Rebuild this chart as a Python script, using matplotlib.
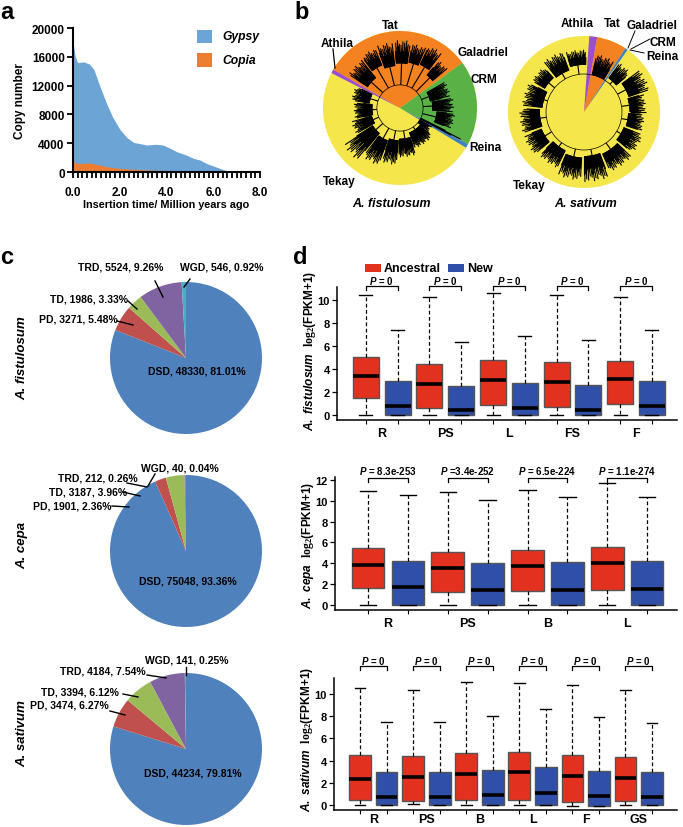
import numpy as np
import matplotlib
matplotlib.use("Agg")
import matplotlib.pyplot as plt
from matplotlib.patches import Wedge, Rectangle, Arc, Polygon
from matplotlib.collections import LineCollection

plt.rcParams['font.family'] = ['Liberation Sans', 'DejaVu Sans']
plt.rcParams['font.weight'] = 'bold'
plt.rcParams['mathtext.fontset'] = 'custom'
plt.rcParams['mathtext.it'] = 'Liberation Sans:italic:bold'
plt.rcParams['mathtext.rm'] = 'Liberation Serif'
plt.rcParams['mathtext.bf'] = 'Liberation Sans:bold'

W, H = 683, 828

# ---- panel a: insertion time ----
ins_time = [0.0, 0.1, 0.2, 0.45, 0.7, 0.9, 1.15, 1.45, 1.7, 2.0, 2.3, 2.6, 2.85, 3.15,
            3.55, 3.85, 4.15, 4.45, 4.85, 5.15, 5.45, 5.7, 6.0, 6.3, 6.55, 6.85, 8.0]
gypsy = [18000, 16000, 15200, 15300, 15000, 14200, 11900, 9400, 7600, 5950, 4800, 4100, 3950, 3750,
         3850, 3750, 3300, 2800, 2350, 1900, 1650, 1200, 850, 480, 200, 0, 0]
copia = [1500, 1350, 1200, 1200, 1250, 1150, 950, 750, 600, 500, 430, 380, 340, 300,
         250, 220, 180, 140, 100, 70, 50, 30, 15, 0, 0, 0, 0]

# ---- panel b: LTR trees (sector angles in degrees) ----
fis_sectors = [('Tat', 36, 150, '#f58220'), ('Athila', 150, 153, '#9b4fd0'),
               ('CRM', -28, 36, '#5ab246'), ('Reina', -31, -28, '#3f7fc5')]
sat_sectors = [('Tat', 57, 80, '#f58220'), ('Athila', 80, 86, '#9b4fd0'),
               ('Reina', 55, 57, '#3f7fc5')]
# clades: (theta1, theta2, r_in, r_out)
fis_clades = [(40, 51, 0.55, 0.80), (53, 65, 0.62, 0.90), (67, 79, 0.60, 0.85), (81, 95, 0.58, 0.88),
              (97, 111, 0.55, 0.86), (113, 127, 0.60, 0.84), (129, 147, 0.50, 0.80),
              (-22, -6, 0.48, 0.72), (-4, 11, 0.42, 0.70), (13, 30, 0.40, 0.68),
              (154, 171, 0.40, 0.64), (173, 194, 0.36, 0.60), (196, 211, 0.38, 0.66),
              (213, 231, 0.42, 0.88), (233, 249, 0.45, 0.80), (251, 267, 0.42, 0.74),
              (269, 289, 0.40, 0.64), (291, 319, 0.34, 0.56), (321, 329, 0.30, 0.48),
              (-28, -26, 0.30, 0.95)]
sat_clades = [(0, 17, 0.60, 0.82), (19, 37, 0.62, 0.92), (40, 54, 0.55, 0.80), (59, 78, 0.50, 0.78),
              (88, 107, 0.62, 0.82), (110, 129, 0.58, 0.85), (132, 149, 0.60, 0.80),
              (152, 174, 0.55, 0.82), (177, 199, 0.58, 0.85), (202, 221, 0.60, 0.86),
              (224, 244, 0.56, 0.82), (247, 267, 0.60, 0.90), (270, 291, 0.58, 0.92),
              (294, 317, 0.60, 0.86), (320, 339, 0.56, 0.84), (342, 358, 0.58, 0.80)]
spike_profile = [1.0, 0.7, 0.9, 0.55, 0.95, 0.65, 0.8, 0.5, 0.85, 0.75]

# ---- panel c: duplication types ----
dup_types = ['DSD', 'PD', 'TD', 'TRD', 'WGD']
dup_colors = ['#4f81bd', '#c0504d', '#9bbb59', '#8064a2', '#4bacc6']
fis_counts = [48330, 3271, 1986, 5524, 546]
fis_pct = ['81.01%', '5.48%', '3.33%', '9.26%', '0.92%']
cep_counts = [75048, 1901, 3187, 212, 40]
cep_pct = ['93.36%', '2.36%', '3.96%', '0.26%', '0.04%']
sat_counts = [44234, 3474, 3394, 4184, 141]
sat_pct = ['79.81%', '6.27%', '6.12%', '7.54%', '0.25%']

# ---- panel d: expression boxes ----
tissues1 = ['R', 'PS', 'L', 'FS', 'F']
anc1_lo = [0, 0, 0, 0, 0]
anc1_q1 = [1.45, 0.58, 0.87, 0.70, 0.93]
anc1_med = [3.42, 2.70, 3.07, 2.90, 3.10]
anc1_q3 = [5.07, 4.47, 4.75, 4.61, 4.72]
anc1_hi = [10.46, 10.23, 10.64, 10.46, 10.29]
new1_lo = [0, 0, 0, 0, 0]
new1_q1 = [0, 0, 0, 0, 0]
new1_med = [0.75, 0.43, 0.58, 0.46, 0.75]
new1_q3 = [2.96, 2.49, 2.75, 2.64, 2.96]
new1_hi = [7.42, 6.32, 6.84, 6.55, 7.42]
pval1 = ['= 0', '= 0', '= 0', '= 0', '= 0']

tissues2 = ['R', 'PS', 'B', 'L']
anc2_lo = [0, 0, 0, 0]
anc2_q1 = [1.58, 1.19, 1.32, 1.39]
anc2_med = [3.84, 3.51, 3.77, 4.00]
anc2_q3 = [5.48, 5.12, 5.25, 5.54]
anc2_hi = [10.95, 10.86, 11.08, 11.76]
new2_lo = [0, 0, 0, 0]
new2_q1 = [0, 0, 0, 0]
new2_med = [1.71, 1.39, 1.45, 1.52]
new2_q3 = [4.22, 4.03, 4.16, 4.22]
new2_hi = [10.60, 10.08, 10.34, 10.41]
pval2 = ['= 8.3e-253', '=3.4e-252', '= 6.5e-224', '= 1.1e-274']

tissues3 = ['R', 'PS', 'B', 'L', 'F', 'GS']
anc3_lo = [0.03, 0.05, 0, 0, -0.12, 0]
anc3_q1 = [0.42, 0.39, 0.42, 0.48, 0.24, 0.33]
anc3_med = [2.34, 2.49, 2.79, 2.94, 2.64, 2.40]
anc3_q3 = [4.53, 4.41, 4.65, 4.77, 4.53, 4.35]
anc3_hi = [10.54, 10.36, 11.05, 10.96, 10.78, 10.33]
new3_lo = [0, 0, 0, 0, -0.12, 0]
new3_q1 = [0, 0, 0, 0, -0.12, 0]
new3_med = [0.75, 0.75, 0.93, 1.05, 0.78, 0.69]
new3_q3 = [3.00, 3.00, 3.18, 3.45, 3.09, 2.94]
new3_hi = [7.48, 7.48, 8.05, 8.62, 7.95, 7.41]
pval3 = ['= 0'] * 6

RED = '#e2321f'
BLUE = '#2f4fa8'

fig = plt.figure(figsize=(W / 100, H / 100), dpi=100)


def px_axes(x0, y0, x1, y1):
    return fig.add_axes([x0 / W, 1 - y1 / H, (x1 - x0) / W, (y1 - y0) / H])


def Y(y):
    return H - y


# overlay in pixel coordinates (y measured from top)
ov = fig.add_axes([0, 0, 1, 1])
ov.patch.set_alpha(0)


def ptext(x, y, s, **kw):
    kw.setdefault('ha', 'center')
    kw.setdefault('va', 'center')
    ov.text(x, Y(y), s, **kw)


def pline(x0, y0, x1, y1, lw=0.9):
    ov.plot([x0, x1], [Y(y0), Y(y1)], color='black', lw=lw)


# panel letters
for letter, x, y in [('a', 0, 19), ('b', 294, 19), ('c', 0, 264), ('d', 293, 264)]:
    ptext(x, y, letter, ha='left', va='baseline', fontsize=17, fontweight='bold')

# ---- a ----
axa = px_axes(73, 29, 260, 173)
axa.fill_between(ins_time, gypsy, color='#6ca4d6', lw=0)
axa.fill_between(ins_time, copia, color='#ed7d31', lw=0)
axa.set_xlim(0, 8)
axa.set_ylim(0, 20000)
axa.set_xticks([0, 2, 4, 6, 8], ['0.0', '2.0', '4.0', '6.0', '8.0'])
axa.set_xticks(np.arange(0, 8.01, 0.2), minor=True)
axa.set_yticks(range(0, 20001, 4000))
for s in ['top', 'right']:
    axa.spines[s].set_visible(False)
for s in ['left', 'bottom']:
    axa.spines[s].set_linewidth(1.5)
axa.tick_params(axis='both', which='both', direction='out', width=1.3, length=4, labelsize=8.5, pad=2)
axa.tick_params(axis='x', which='major', pad=6)
axa.set_ylabel('Copy number', fontsize=8.5, fontweight='bold', labelpad=4)
axa.patch.set_alpha(0)
ptext(166, 205, 'Insertion time/ Million years ago', fontsize=7.8, fontweight='bold')
ov.add_patch(Rectangle((197, Y(44)), 15, 13, color='#6ca4d6', lw=0))
ov.add_patch(Rectangle((197, Y(68)), 15, 14, color='#ed7d31', lw=0))
ptext(222, 37, 'Gypsy', ha='left', fontsize=8.7, fontweight='bold', fontstyle='italic')
ptext(222, 61, 'Copia', ha='left', fontsize=8.7, fontweight='bold', fontstyle='italic')


# ---- b ----
def polar(c, r, t):
    a = np.deg2rad(t)
    return c[0] + r * np.cos(a), c[1] + r * np.sin(a)


def draw_tree(cx, cy, R, sectors, clades, arc_r):
    c = (cx, Y(cy))
    ov.add_patch(Wedge(c, R, 0, 360, color='#f5e64b', lw=0))
    for _, t1, t2, col in sectors:
        ov.add_patch(Wedge(c, R, t1, t2, color=col, lw=0))
    for r in arc_r:
        ov.add_patch(Arc(c, 2 * r * R, 2 * r * R, color='black', lw=0.5))
    segs = []
    k = 0
    for t1, t2, r1, r2 in clades:
        # dense core of the clade
        core = r1 + (r2 - r1) * 0.5
        ts = np.linspace(t1, t2, 12)
        pts = [polar(c, r1 * R, t) for t in ts] + [polar(c, core * R, t) for t in ts[::-1]]
        ov.add_patch(Polygon(pts, closed=True, color='black', lw=0))
        # hairy tips
        for t in np.arange(t1, t2 + 0.01, 0.8):
            rr = r1 + (r2 - r1) * spike_profile[k % len(spike_profile)]
            k += 1
            segs.append([polar(c, r1 * R, t), polar(c, rr * R, t)])
        # branch to the backbone
        tm = (t1 + t2) / 2
        segs.append([polar(c, arc_r[0] * R, tm), polar(c, r1 * R, tm)])
    ov.add_collection(LineCollection(segs, colors='black', linewidths=0.8))


draw_tree(400, 109, 77, fis_sectors, fis_clades, [0.3])
draw_tree(584, 113, 76, sat_sectors, sat_clades, [0.5])
bkw = dict(fontsize=8.5, fontweight='bold')
ptext(390, 26, 'Tat', **bkw)
ptext(337, 44, 'Athila', **bkw)
ptext(483, 53, 'Galadriel', **bkw)
ptext(484, 80, 'CRM', **bkw)
ptext(485, 148, 'Reina', **bkw)
ptext(339, 182, 'Tekay', **bkw)
pline(333, 50, 335, 69)
ptext(577, 24, 'Athila', **bkw)
ptext(612, 24, 'Tat', **bkw)
ptext(652, 26, 'Galadriel', **bkw)
ptext(663, 43, 'CRM', **bkw)
ptext(662, 57, 'Reina', **bkw)
ptext(529, 186, 'Tekay', **bkw)
pline(635, 32, 628, 49, 0.7)
pline(650, 40, 631, 50, 0.7)
pline(644, 54, 630, 51, 0.7)
ptext(391, 204, 'A. fistulosum', fontsize=8.9, fontweight='bold', fontstyle='italic')
ptext(586, 204, 'A. sativum', fontsize=8.9, fontweight='bold', fontstyle='italic')

# ---- c ----
pies = [
    (fis_counts, fis_pct, 359, 'A. fistulosum', 358,
     {'DSD': (197, 372), 'PD': (78, 320), 'TD': (89, 300), 'TRD': (121, 268), 'WGD': (222, 268)},
     [(117, 322, 133, 326), (128, 302, 137, 310), (155, 282, 163, 298), (190, 280, 184, 288)]),
    (cep_counts, cep_pct, 552, 'A. cepa', 545,
     {'DSD': (188, 582), 'PD': (72, 507), 'TD': (88, 493), 'TRD': (98, 479), 'WGD': (180, 469)},
     [(112, 507, 129, 508), (123, 493, 140, 497), (127, 484, 147, 488), (155, 475, 148, 487)]),
    (sat_counts, sat_pct, 750, 'A. sativum', 734,
     {'DSD': (193, 774), 'PD': (69, 706), 'TD': (80, 693), 'TRD': (103, 672), 'WGD': (187, 661)},
     [(110, 712, 125, 716), (123, 695, 138, 698), (147, 676, 166, 679), (186, 668, 186, 676)]),
]
for counts, pct, cy, name, ny, lab_pos, leaders in pies:
    ov.pie(counts, colors=dup_colors, startangle=90, counterclock=False,
           center=(186, Y(cy)), radius=76, frame=True, wedgeprops=dict(linewidth=0))
    for t, n, p in zip(dup_types, counts, pct):
        lx, ly = lab_pos[t]
        ptext(lx, ly, f'{t}, {n}, {p}', fontsize=7.5, fontweight='bold')
    for x0, y0, x1, y1 in leaders:
        pline(x0, y0, x1, y1, 1.0)
    ptext(22, ny, name, rotation=90, fontsize=9.5, fontweight='bold', fontstyle='italic')

ov.set_xlim(0, W)
ov.set_ylim(0, H)
ov.set_aspect('auto')
ov.axis('off')


# ---- d ----
def box_panel(rect, tissues, anc, new, pvals, ylim, yticks, xl, species, label_xy,
              bracket_y, tick_dy, text_y, xpad=5):
    ax = px_axes(*rect)
    ax.patch.set_alpha(0)
    n = len(tissues)
    pos_a = np.arange(n) * 2 + 1
    pos_n = pos_a + 1
    for pos, data, col in [(pos_a, anc, RED), (pos_n, new, BLUE)]:
        lo, q1, med, q3, hi = data
        stats = [dict(whislo=lo[i], q1=q1[i], med=med[i], q3=q3[i], whishi=hi[i]) for i in range(n)]
        ax.bxp(stats, positions=pos, widths=0.82, patch_artist=True, showfliers=False,
               manage_ticks=False,
               boxprops=dict(facecolor=col, edgecolor='#555555', linewidth=1.0),
               medianprops=dict(color='black', linewidth=2.6, solid_capstyle='butt'),
               whiskerprops=dict(color='black', linewidth=0.9, linestyle=(0, (3, 2))),
               capprops=dict(color='black', linewidth=1.0))
    ax.set_xlim(*xl)
    ax.set_ylim(*ylim)
    ax.set_yticks(yticks)
    ax.set_xticks(np.arange(1, 2 * n + 1), [''] * (2 * n))
    ax.set_xticks(pos_a + 0.5, tissues, minor=True)
    ax.tick_params(axis='x', which='minor', length=0, labelsize=9, pad=xpad)
    ax.tick_params(axis='x', which='major', length=3, width=0.8)
    ax.tick_params(axis='y', length=3.5, width=0.9, labelsize=8, pad=1.5)
    for s in ['top', 'right']:
        ax.spines[s].set_visible(False)
    for s in ['left', 'bottom']:
        ax.spines[s].set_linewidth(1.1)
    for a, b, p in zip(pos_a, pos_n, pvals):
        ax.plot([a, a, b, b], [bracket_y - tick_dy, bracket_y, bracket_y, bracket_y - tick_dy],
                color='black', lw=0.9, clip_on=False)
        ax.text((a + b) / 2, text_y, r'$\it{P}$ ' + p, ha='center', va='center',
                fontsize=7, fontweight='bold', clip_on=False)
    sp = species.replace(' ', r'\ ')
    fig.text(label_xy[0] / W, 1 - label_xy[1] / H,
             r'$\it{' + sp + r'}$  $\mathrm{log_2}$(FPKM+1)',
             rotation=90, ha='center', va='center', fontsize=8.6, fontweight='bold')
    return ax


box_panel((337, 288, 677, 421), tissues1,
          (anc1_lo, anc1_q1, anc1_med, anc1_q3, anc1_hi),
          (new1_lo, new1_q1, new1_med, new1_q3, new1_hi),
          pval1, (-0.43, 11.13), range(0, 11, 2), (0.09, 10.79), 'A. fistulosum', (310, 351),
          11.2, 0.35, 11.75)
box_panel((335, 478, 677, 611), tissues2,
          (anc2_lo, anc2_q1, anc2_med, anc2_q3, anc2_hi),
          (new2_lo, new2_q1, new2_med, new2_q3, new2_hi),
          pval2, (-0.51, 12.3), range(0, 13, 2), (0.17, 8.75), 'A. cepa', (308, 545),
          12.24, 0.4, 12.95)
box_panel((334, 679, 677, 811), tissues3,
          (anc3_lo, anc3_q1, anc3_med, anc3_q3, anc3_hi),
          (new3_lo, new3_q1, new3_med, new3_q3, new3_hi),
          pval3, (-0.45, 11.44), range(0, 11, 2), (0.02, 12.94), 'A. sativum', (307, 739),
          12.52, 0.35, 13.1, xpad=2)

# legend for d
ptext(384, 269, 'Ancestral', ha='left', fontsize=9, fontweight='bold')
ptext(467, 269, 'New', ha='left', fontsize=9, fontweight='bold')
ov.add_patch(Rectangle((365, Y(273)), 16, 8, color=RED, lw=0))
ov.add_patch(Rectangle((448, Y(273)), 16, 8, color=BLUE, lw=0))

fig.savefig('out.png', dpi=100)
